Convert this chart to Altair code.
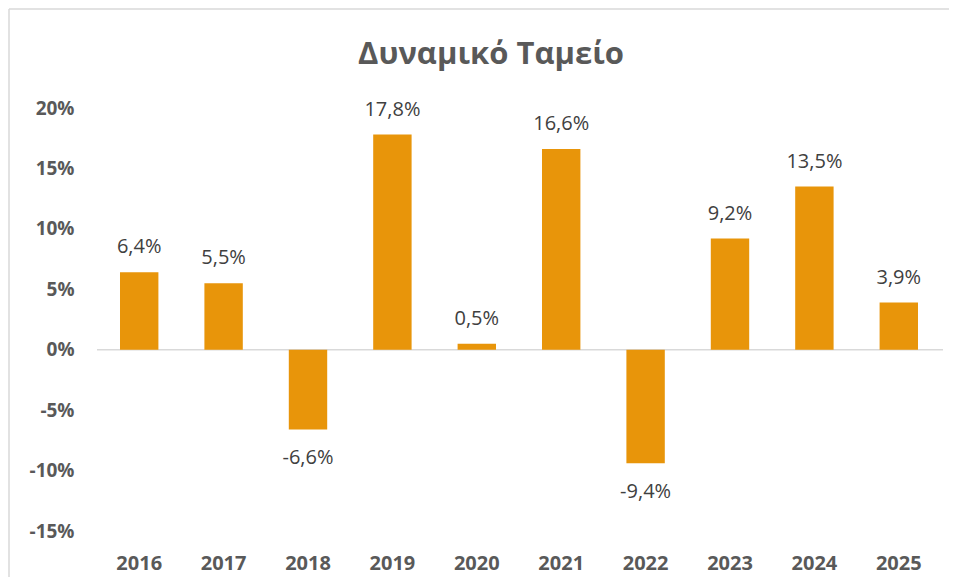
import altair as alt
import pandas as pd

years = ["2016", "2017", "2018", "2019", "2020", "2021", "2022", "2023", "2024", "2025"]
returns = [6.4, 5.5, -6.6, 17.8, 0.5, 16.6, -9.4, 9.2, 13.5, 3.9]
y_ticks = [-15, -10, -5, 0, 5, 10, 15, 20]
title_text = "Δυναμικό Ταμείο"

df = pd.DataFrame({"year": years, "ret": returns})
df["label"] = [f"{v:.1f}%".replace(".", ",") for v in returns]

W, H = 844, 423
FONT = "Open Sans"
BAR = "#E8950A"

x = alt.X("year:N", sort=years, title=None,
          scale=alt.Scale(paddingInner=0.545, paddingOuter=0.2725),
          axis=alt.Axis(labelAngle=0, labelFont=FONT, labelFontSize=20, labelFontWeight="bold",
                        labelColor="#595959", labelPadding=22, domain=False, ticks=False, grid=False))
y = alt.Y("ret:Q", title=None,
          scale=alt.Scale(domain=[-15, 20], nice=False, zero=False),
          axis=alt.Axis(values=y_ticks, labelExpr="datum.value + '%'", labelFont=FONT,
                        labelFontSize=19, labelFontWeight="bold", labelColor="#595959",
                        labelPadding=23, domain=False, ticks=False, grid=False))

base = alt.Chart(df)

bars = base.mark_bar(color=BAR).encode(x=x, y=y, y2=alt.datum(0))

zero = alt.Chart(pd.DataFrame({"z": [0]})).mark_rule(color="#D9D9D9", strokeWidth=1.5).encode(
    y=alt.Y("z:Q", scale=alt.Scale(domain=[-15, 20], nice=False, zero=False)),
    x=alt.value(0), x2=alt.value(W + 2))

pos_lab = base.transform_filter("datum.ret >= 0").mark_text(
    baseline="alphabetic", dy=-19, font=FONT, fontSize=20, color="#404040"
).encode(x=alt.X("year:N", sort=years), y=alt.Y("ret:Q"), text="label:N")

neg_lab = base.transform_filter("datum.ret < 0").mark_text(
    baseline="alphabetic", dy=35, font=FONT, fontSize=20, color="#404040"
).encode(x=alt.X("year:N", sort=years), y=alt.Y("ret:Q"), text="label:N")

title = alt.Chart(pd.DataFrame({"t": [title_text]})).mark_text(
    baseline="alphabetic", align="center", font=FONT, fontSize=31, fontWeight="bold", color="#595959"
).encode(x=alt.value(394), y=alt.value(-44), text="t:N")

border_v = alt.Chart(pd.DataFrame({"b": [0]})).mark_rule(color="#D9D9D9", strokeWidth=1.5).encode(
    x=alt.value(-88), y=alt.value(-99), y2=alt.value(H + 50))
border_h = alt.Chart(pd.DataFrame({"b": [0]})).mark_rule(color="#D9D9D9", strokeWidth=1.5).encode(
    y=alt.value(-99), x=alt.value(-88), x2=alt.value(W + 8))

chart = alt.layer(border_v, border_h, zero, bars, pos_lab, neg_lab, title).properties(
    width=W, height=H,
    background="white",
    autosize=alt.AutoSizeParams(type="none"),
    padding={"left": 89, "top": 100, "right": 8, "bottom": 46},
).configure_view(stroke=None)

chart.save("out.html", embed_options={"renderer": "svg", "actions": False})
